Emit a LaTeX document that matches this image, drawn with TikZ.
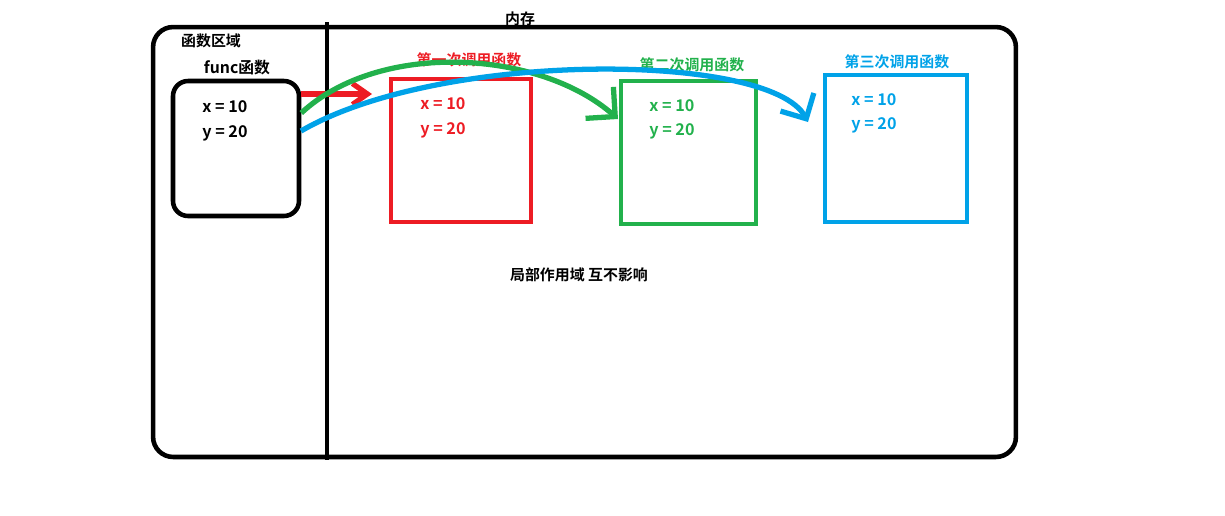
\documentclass[tikz,border=0pt]{standalone}
\usepackage{fontspec}
\setmainfont{Noto Sans CJK SC}[BoldFont={* Bold}]
\usetikzlibrary{arrows.meta,positioning}
\definecolor{pred}{HTML}{ED1C24}
\definecolor{pgreen}{HTML}{22B14C}
\definecolor{pblue}{HTML}{00A2E8}

\begin{document}
\begin{tikzpicture}[x=0.02cm, y=-0.02cm, font=\bfseries\fontsize{8.5}{10}\selectfont,
  every node/.style={inner sep=0pt},
  frame/.style={draw, line width=2.6pt},
  callbox/.style={frame, minimum height=2.86cm},
  var/.style={anchor=west, font=\bfseries\fontsize{9.2}{11}\selectfont},
  call/.style={line width=3pt, -{Straight Barb[length=0.42cm, width=0.84cm]}}]
  \useasboundingbox (0,0) rectangle (1225,515);

  \node[frame, rounded corners=0.4cm, minimum width=17.26cm, minimum height=8.6cm] (mem) at (584.5,242) {};
  \draw[frame] (327,22) -- (327,460);
  \node (memlbl) at (520,19) {内存};
  \node (arealbl) at (211,41) {函数区域};

  \node[frame, rounded corners=0.3cm, minimum width=2.52cm, minimum height=2.7cm] (func) at (236,148.5) {};
  \node (funclbl) at (237,68) {\fontsize{9}{10}\selectfont func函数};
  \node[var] (fx) at (202,107) {x = 10};
  \node[var] (fy) at (202,133) {y = 20};

  \begin{scope}[pred]
    \node[callbox, minimum width=2.8cm] (c1) at (461,150.5) {};
    \node (c1lbl) at (469,60) {第一次调用函数};
    \node[var] (c1x) at (420,104) {x = 10};
    \node[var] (c1y) at (420,130) {y = 20};
  \end{scope}
  \begin{scope}[pgreen]
    \node[callbox, minimum width=2.7cm] (c2) at (688.5,152.5) {};
    \node (c2lbl) at (692,65) {第二次调用函数};
    \node[var] (c2x) at (649,106) {x = 10};
    \node[var] (c2y) at (649,131) {y = 20};
  \end{scope}
  \begin{scope}[pblue]
    \node[callbox, minimum width=2.84cm, minimum height=2.94cm] (c3) at (896,148.5) {};
    \node (c3lbl) at (897,62) {第三次调用函数};
    \node[var] (c3x) at (851,100) {x = 10};
    \node[var] (c3y) at (851,125) {y = 20};
  \end{scope}

  \node (note) at (579,275) {局部作用域 互不影响};

  \coordinate (t1) at (372,94);
  \coordinate (t2) at (618,119);
  \coordinate (t3) at (808,122);
  \draw[call, pred, -{Straight Barb[length=0.3cm, width=0.42cm]}] (func.east |- t1) -- (t1);
  \draw[call, pgreen] (func.east |- 0,113) .. controls (380,40) and (540,50) .. (t2);
  \draw[call, pblue, -{Straight Barb[length=0.38cm, width=0.76cm]}] (301,131) .. controls (440,50) and (770,52) .. (t3);
\end{tikzpicture}
\end{document}
